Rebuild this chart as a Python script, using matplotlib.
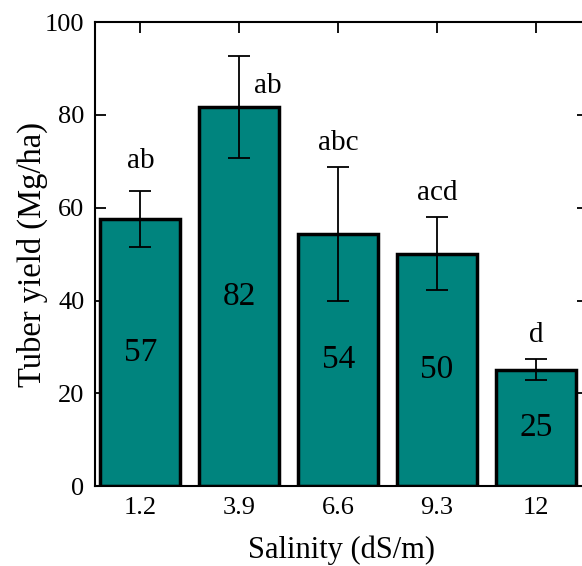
import matplotlib
matplotlib.use('Agg')
import matplotlib.pyplot as plt
import numpy as np

plt.rcParams['font.family'] = ['Liberation Serif', 'DejaVu Serif']

salinity = ['1.2', '3.9', '6.6', '9.3', '12']
yield_mean = [57.5, 81.7, 54.4, 50.1, 25.1]
yield_err = [6.0, 11.0, 14.4, 7.9, 2.3]
value_labels = ['57', '82', '54', '50', '25']
letters = ['ab', 'ab', 'abc', 'acd', 'd']
# where the letters sit (x offset from bar, y in data units)
letter_dx = [0, 0.29, 0, 0, 0]
letter_y = [70, 86.2, 74, 63.1, 32.6]

fig = plt.figure(figsize=(5.82, 5.66), dpi=100)
ax = fig.add_axes([0.164, 0.141, 0.847, 0.820])

x = np.arange(len(salinity))
ax.bar(x, yield_mean, width=0.81, color='#00847e', edgecolor='black',
       linewidth=2.5, zorder=2)
ax.errorbar(x, yield_mean, yerr=yield_err, fmt='none', ecolor='black',
            elinewidth=1.3, capsize=8, capthick=1.3, zorder=3)

for i in range(len(x)):
    ax.text(x[i], yield_mean[i] / 2, value_labels[i], ha='center',
            va='center', fontsize=24, zorder=4)
    ax.text(x[i] + letter_dx[i], letter_y[i], letters[i], ha='center',
            va='center', fontsize=21, zorder=4)

ax.set_xlim(-0.455, 4.53)
ax.set_ylim(0, 100)
ax.set_yticks(range(0, 101, 20))
ax.set_xticks(x)
ax.set_xticklabels(salinity)
ax.tick_params(direction='in', length=8, width=1.3, labelsize=19,
               top=True, right=True, pad=8)
for s in ax.spines.values():
    s.set_linewidth(1.5)

ax.set_ylabel('Tuber yield (Mg/ha)', fontsize=23.5, labelpad=-2)
ax.set_xlabel('Salinity (dS/m)', fontsize=22, labelpad=12)

plt.savefig('out.png', dpi=100)
